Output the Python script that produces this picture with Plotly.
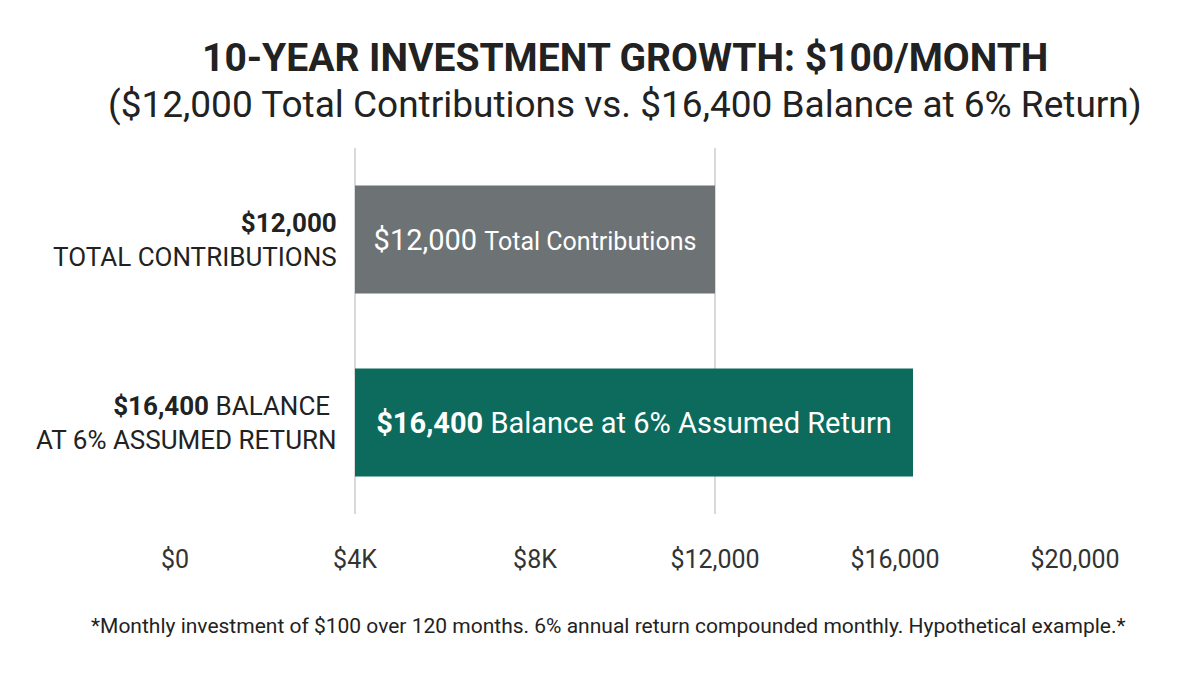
import plotly.graph_objects as go

categories = ["contrib", "balance"]
values = [12000, 16400]
bar_base = 4000
bar_colors = ["#6d7275", "#0c6b5c"]
bar_texts = ["$12,000 <span style='font-size:25px'>Total Contributions</span>",
             "<b>$16,400</b> Balance at 6% Assumed Return"]
side_labels = ["<b>$12,000</b><br>TOTAL CONTRIBUTIONS",
               "<b>$16,400</b> BALANCE <br>AT 6% ASSUMED RETURN"]
tick_vals = [0, 4000, 8000, 12000, 16000, 20000]
tick_text = ["$0", "$4K", "$8K", "$12,000", "$16,000", "$20,000"]
grid_at = [4000, 12000]

# plot area in pixels: x 167..1067, y 140..506
PT, PB = 140, 506
H = PB - PT


def py(pix):
    # pixel row -> paper y
    return (PB - pix) / H


fig = go.Figure(go.Bar(
    y=categories, x=[v - bar_base for v in values], base=bar_base,
    orientation="h", marker_color=bar_colors, marker_line_width=0,
    text=bar_texts, textposition="inside", insidetextanchor="middle",
    textfont=dict(color="white", size=29), width=0.59,
))

for g in grid_at:
    fig.add_vline(x=g, line_color="#cccccc", line_width=1.5, layer="below")

for cat, lab in zip(categories, side_labels):
    fig.add_annotation(x=3650, y=cat, xref="x", yref="y", text=lab, showarrow=False,
                       xanchor="right", align="right", font=dict(size=26, color="#222"))

fig.add_annotation(x=0.5, y=py(50), xref="paper", yref="paper", showarrow=False,
                   xanchor="center", yanchor="middle",
                   text="<b>10-YEAR INVESTMENT GROWTH: $100/MONTH</b>",
                   font=dict(size=39, color="#222"))
fig.add_annotation(x=0.5, y=py(96), xref="paper", yref="paper", showarrow=False,
                   xanchor="center", yanchor="middle",
                   text="($12,000 Total Contributions vs. $16,400 Balance at 6% Return)",
                   font=dict(size=37, color="#222"))
fig.add_annotation(x=(600 - 167) / 900, y=py(618), xref="paper", yref="paper", showarrow=False,
                   xanchor="center", yanchor="middle",
                   text="*Monthly investment of $100 over 120 months. 6% annual return compounded monthly. Hypothetical example.*",
                   font=dict(size=21, color="#222"))

fig.update_layout(
    width=1200, height=675, plot_bgcolor="white", paper_bgcolor="white",
    font=dict(family="Roboto, Arial, sans-serif", color="#222"),
    margin=dict(l=167, r=133, t=PT, b=675 - PB, autoexpand=False),
    showlegend=False,
    xaxis=dict(range=[0, 20000], showgrid=False, zeroline=False, tickvals=tick_vals,
               ticktext=tick_text, tickfont=dict(size=25, color="#333"), ticks="",
               ticklabelstandoff=28),
    yaxis=dict(categoryorder="array", categoryarray=categories[::-1], showticklabels=False,
               showgrid=False, zeroline=False, range=[-0.5, 1.5]),
)

fig.write_html("out.html")
